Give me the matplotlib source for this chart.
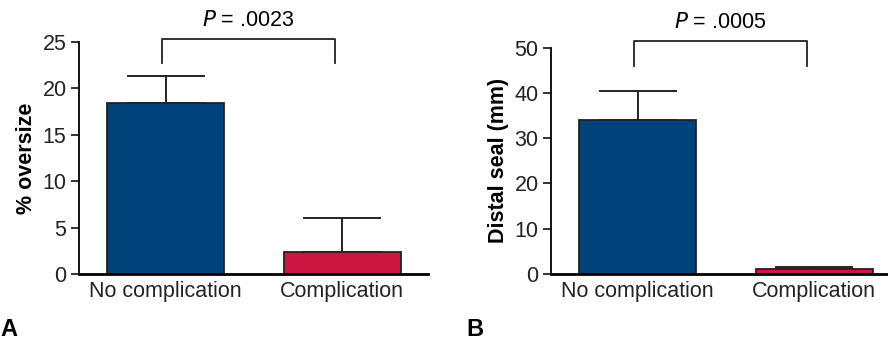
import matplotlib.pyplot as plt

plt.rcParams['font.family'] = ['Liberation Sans', 'DejaVu Sans']

# Data
groups = ['No complication', 'Complication']
oversize_mean = [18.4, 2.35]
oversize_err = [2.9, 3.7]
seal_mean = [34.0, 1.1]
seal_err = [6.5, 0.4]
p_values = ['.0023', '.0005']

blue = '#00427a'
red = '#cc1540'
fs = 15.5

fig = plt.figure(figsize=(8.88, 3.41), dpi=100)
axA = fig.add_axes([0.089, 0.1965, 0.393, 0.68])
axB = fig.add_axes([0.6205, 0.1965, 0.3785, 0.664])


def draw_panel(ax, means, errs, ymax, step, ylabel, pval, bracket_y, leg_y, xright):
    x = [0, 1]
    ax.bar(x, means, width=0.663, color=[blue, red], edgecolor='#222222',
           linewidth=1.3, zorder=2)
    ax.errorbar(x, means, yerr=[[0, 0], errs], fmt='none', ecolor='#222222',
                elinewidth=1.4, capsize=28, capthick=1.4, zorder=1)
    ax.set_xlim(-0.49, xright)
    ax.set_ylim(0, ymax)
    ax.set_yticks(range(0, ymax + 1, step))
    ax.set_xticks(x)
    ax.set_xticklabels(groups)
    ax.tick_params(labelsize=fs, width=1.3, length=6, colors='#222222', pad=3)
    ax.tick_params(axis='x', length=0, pad=5)
    ax.spines['top'].set_visible(False)
    ax.spines['right'].set_visible(False)
    ax.spines['left'].set_linewidth(1.3)
    ax.spines['bottom'].set_linewidth(2)
    ax.set_ylabel(ylabel, fontsize=fs, fontweight='bold', labelpad=4)
    # significance bracket
    ax.plot([-0.02, -0.02, 0.96, 0.96], [leg_y, bracket_y, bracket_y, leg_y],
            color='#222222', lw=1.3, clip_on=False)
    ax.text(0.47, bracket_y + ymax * 0.035, r'$\it{P}$ = ' + pval,
            ha='center', va='bottom', fontsize=fs)


draw_panel(axA, oversize_mean, oversize_err, 25, 5, '% oversize', p_values[0],
           25.3, 22.8, 1.487)
draw_panel(axB, seal_mean, seal_err, 50, 10, 'Distal seal (mm)', p_values[1],
           51.4, 45.9, 1.414)

fig.text(0.0, 0.015, 'A', fontsize=17, fontweight='bold')
fig.text(0.525, 0.015, 'B', fontsize=17, fontweight='bold')

fig.savefig('out.png', dpi=100)
